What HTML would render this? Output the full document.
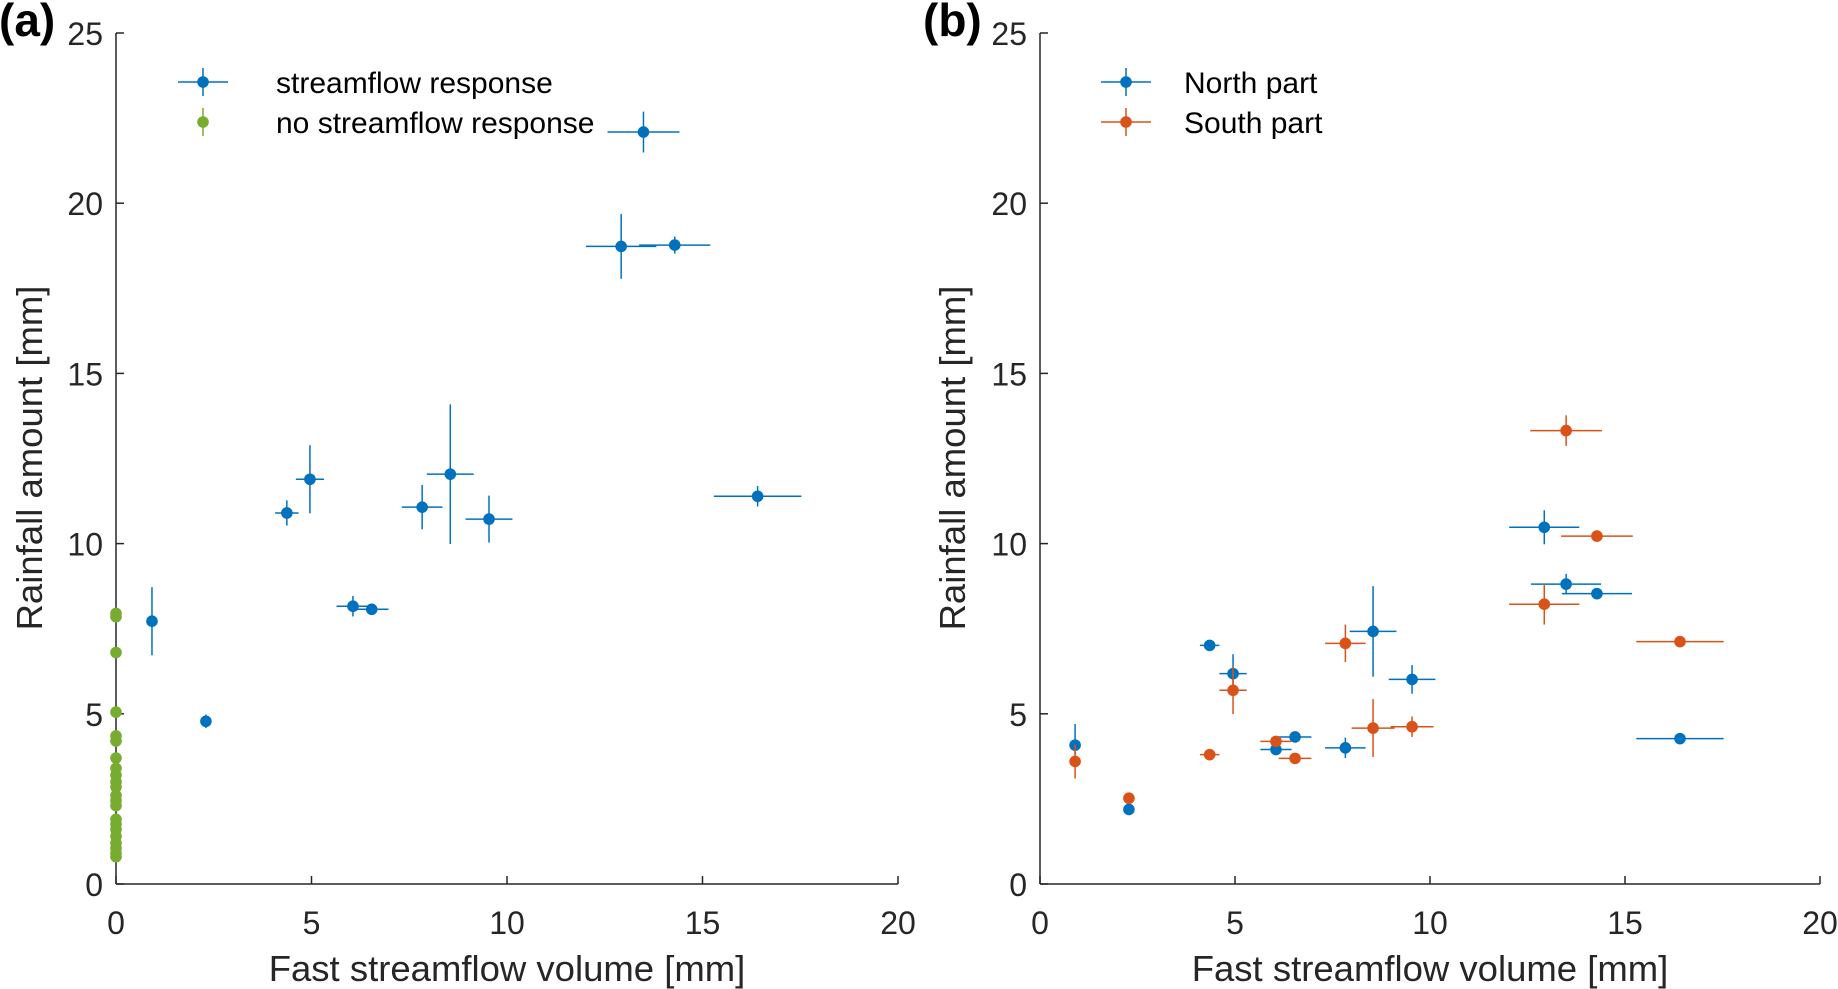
<!DOCTYPE html>
<html><head><meta charset="utf-8"><style>
html,body{margin:0;padding:0;background:#fff;}
svg{display:block;font-family:"Liberation Sans",Arial,sans-serif;}
</style></head><body>
<svg id="chart" width="1838" height="989" viewBox="0 0 1838 989" xmlns="http://www.w3.org/2000/svg"></svg>
<script>
// ---- data: panel (a) ----
const respX = [0.92,2.3,4.37,4.96,6.06,6.54,7.83,8.55,9.54,13.49,12.92,14.29,16.41];
const respY = [7.72,4.78,10.9,11.89,8.16,8.07,11.07,12.04,10.72,22.09,18.73,18.77,11.39];
const respXErr = [0,0.1,0.3,0.36,0.42,0.43,0.52,0.6,0.6,0.92,0.9,0.91,1.12];
const respYErr = [1.0,0.2,0.37,1.0,0.3,0.1,0.65,2.05,0.69,0.6,0.95,0.25,0.3];
const noRespY = [7.95,7.85,6.8,5.05,4.35,4.2,3.7,3.4,3.2,3.0,2.85,2.6,2.45,2.3,1.9,1.75,1.6,1.4,1.2,1.05,0.9,0.8];
// ---- data: panel (b) ----
const northX = [0.9,2.28,4.35,4.95,6.05,6.54,7.83,8.54,9.54,12.93,13.49,14.28,16.41];
const northY = [4.08,2.19,7.01,6.18,3.95,4.32,4.0,7.42,6.01,10.48,8.81,8.53,4.27];
const northXErr = [0,0.1,0.25,0.35,0.4,0.42,0.52,0.6,0.6,0.9,0.9,0.9,1.12];
const northYErr = [0.62,0.1,0.15,0.57,0.15,0.1,0.3,1.33,0.42,0.5,0.3,0.15,0.15];
const southX = [0.9,2.28,4.35,4.95,6.05,6.54,7.83,8.54,9.54,12.93,13.49,14.28,16.41];
const southY = [3.6,2.52,3.8,5.69,4.19,3.69,7.07,4.58,4.62,8.22,13.32,10.22,7.12];
const southXErr = [0,0.1,0.25,0.35,0.4,0.42,0.52,0.55,0.55,0.9,0.92,0.92,1.12];
const southYErr = [0.5,0.1,0.1,0.7,0.1,0.1,0.55,0.85,0.3,0.6,0.45,0.15,0.1];
const xTicks = [0,5,10,15,20];
const yTicks = [0,5,10,15,20,25];

const NS="http://www.w3.org/2000/svg";
const svg=document.getElementById('chart');
function el(tag,attrs,parent){const e=document.createElementNS(NS,tag);for(const k in attrs)e.setAttribute(k,attrs[k]);(parent||svg).appendChild(e);return e;}
const BLUE="#0072BD",ORANGE="#D95319",GREEN="#77AC30";
const Y0=884,Y1=33;
const R=5.8;
function makeAxes(x0,x1,label,yTitleX,name){
  const g=el('g',{});
  
  
  const sx=v=>x0+(x1-x0)*v/20, sy=v=>Y0-(Y0-Y1)*v/25;
  el('line',{x1:x0,y1:Y0,x2:x1,y2:Y0,stroke:'#262626','stroke-width':1.5},g);
  el('line',{x1:x0,y1:Y0,x2:x0,y2:Y1,stroke:'#262626','stroke-width':1.5},g);
  xTicks.forEach(t=>{
    el('line',{x1:sx(t),y1:Y0,x2:sx(t),y2:Y0-8,stroke:'#262626','stroke-width':1.5},g);
    const tx=el('text',{x:sx(t),y:934,'font-size':32,fill:'#262626','text-anchor':'middle'},g);
    
    
    tx.textContent=t;
  });
  yTicks.forEach(t=>{
    el('line',{x1:x0,y1:sy(t),x2:x0+8,y2:sy(t),stroke:'#262626','stroke-width':1.5},g);
    const tx=el('text',{x:x0-13,y:sy(t)+12,'font-size':32,fill:'#262626','text-anchor':'end'},g);
    
    
    tx.textContent=t;
  });
  const xt=el('text',{x:(x0+x1)/2,y:981,'font-size':36.5,fill:'#262626','text-anchor':'middle'},g);
  
  
  xt.textContent='Fast streamflow volume [mm]';
  const yt=el('text',{x:0,y:0,'font-size':36.5,fill:'#262626','text-anchor':'middle',transform:`translate(${yTitleX},458) rotate(-90)`},g);
  
  
  yt.textContent='Rainfall amount [mm]';
  const pl=el('text',{x:x0-117,y:36,'font-size':46,'font-weight':'bold',fill:'#000'},g);
  
  
  pl.textContent=label;
  return {sx,sy};
}
function series(ax,xs,ys,xe,ye,color,name){
  const g=el('g',{});
  
  
  xs.forEach((x,i)=>{
    const cx=ax.sx(x),cy=ax.sy(ys[i]);
    if(xe[i]>0) el('line',{x1:ax.sx(x-xe[i]),y1:cy,x2:ax.sx(x+xe[i]),y2:cy,stroke:color,'stroke-width':1.5},g);
    if(ye[i]>0) el('line',{x1:cx,y1:ax.sy(ys[i]-ye[i]),x2:cx,y2:ax.sy(ys[i]+ye[i]),stroke:color,'stroke-width':1.5},g);
    const c=el('circle',{cx,cy,r:R,fill:color},g);
    
    
  });
}
function legendEntry(x,y,color,text,textX,hline){
  const g=el('g',{});
  
  
  if(hline) el('line',{x1:x-25,y1:y,x2:x+25,y2:y,stroke:color,'stroke-width':1.5},g);
  el('line',{x1:x,y1:y-14,x2:x,y2:y+14,stroke:color,'stroke-width':1.5},g);
  el('circle',{cx:x,cy:y,r:R,fill:color},g);
  const t=el('text',{x:textX,y:y+11,'font-size':30,fill:'#000'},g);
  t.textContent=text;
}
const axA=makeAxes(116,898,'(a)',42,'panel-a');
series(axA,respX,respY,respXErr,respYErr,BLUE,'series-streamflow-response');
series(axA,noRespY.map(()=>0),noRespY,noRespY.map(()=>0),noRespY.map(()=>0.1),GREEN,'series-no-streamflow-response');
legendEntry(203,82,BLUE,'streamflow response',276,true);
legendEntry(203,122,GREEN,'no streamflow response',276,false);

const axB=makeAxes(1040,1820,'(b)',965,'panel-b');
series(axB,northX,northY,northXErr,northYErr,BLUE,'series-north-part');
series(axB,southX,southY,southXErr,southYErr,ORANGE,'series-south-part');
legendEntry(1126,82,BLUE,'North part',1184,true);
legendEntry(1126,122,ORANGE,'South part',1184,true);
</script>
</body></html>
